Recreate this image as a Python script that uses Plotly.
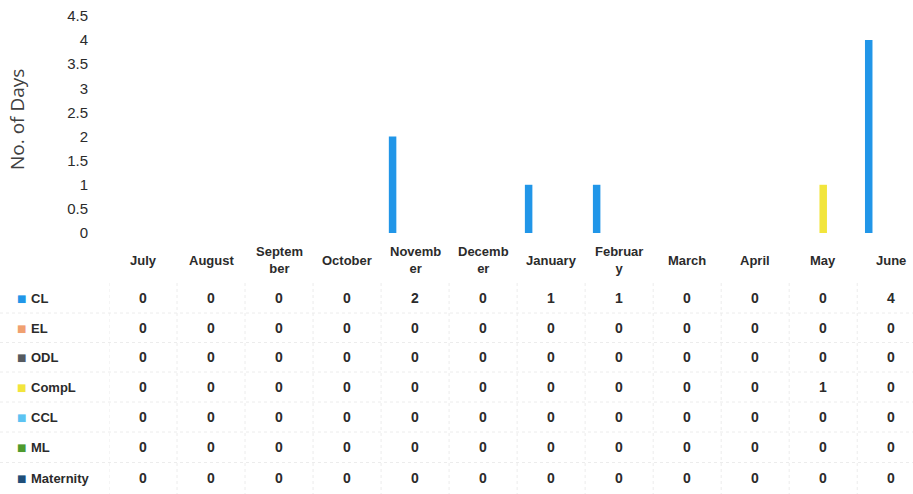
import plotly.graph_objects as go

# months on the category axis
months = ["July", "August", "September", "October", "November", "December",
          "January", "February", "March", "April", "May", "June"]
month_labels = ["July", "August", "Septem<br>ber", "October", "Novemb<br>er", "Decemb<br>er",
                "January", "Februar<br>y", "March", "April", "May", "June"]

# leave types (series)
leave_types = ["CL", "EL", "ODL", "CompL", "CCL", "ML", "Maternity"]

cl = [0, 0, 0, 0, 2, 0, 1, 1, 0, 0, 0, 4]
el = [0, 0, 0, 0, 0, 0, 0, 0, 0, 0, 0, 0]
odl = [0, 0, 0, 0, 0, 0, 0, 0, 0, 0, 0, 0]
compl = [0, 0, 0, 0, 0, 0, 0, 0, 0, 0, 1, 0]
ccl = [0, 0, 0, 0, 0, 0, 0, 0, 0, 0, 0, 0]
ml = [0, 0, 0, 0, 0, 0, 0, 0, 0, 0, 0, 0]
maternity = [0, 0, 0, 0, 0, 0, 0, 0, 0, 0, 0, 0]

series = [cl, el, odl, compl, ccl, ml, maternity]
colors = ["#2196E8", "#F0A070", "#555A60", "#F2E53C", "#5CC3F2", "#4E9A2E", "#1F4E79"]

y_ticks = [0, 0.5, 1, 1.5, 2, 2.5, 3, 3.5, 4, 4.5]

W, H = 913, 494
L, T, B = 109, 16, 261
plot_w = W - L
plot_h = H - T - B
FONT = "Liberation Sans, Arial, sans-serif"
TXT = "#2b2b2b"


def py(ypx):
    # pixel row -> paper y
    return (H - B - ypx) / plot_h


def px(xpx):
    return (xpx - L) / plot_w


fig = go.Figure()
for name, vals, col in zip(leave_types, series, colors):
    fig.add_trace(go.Bar(x=months, y=vals, name=name, marker_color=col,
                         marker_line_width=0, showlegend=False))

ann = []
# month labels under the plot
for m, lab in zip(months, month_labels):
    ann.append(dict(x=m, y=py(260), xref="x", yref="paper", text=f"<b>{lab}</b>", showarrow=False,
                    xanchor="center", yanchor="middle",
                    font=dict(family=FONT, size=13, color=TXT)))

# data table rows
row_y = [298, 328, 357, 387, 417, 447, 478]
for name, vals, col, ry in zip(leave_types, series, colors, row_y):
    ann.append(dict(x=px(15), y=py(ry), xref="paper", yref="paper", text="■",
                    showarrow=False, xanchor="left", yanchor="middle",
                    font=dict(family="DejaVu Sans", size=10, color=col)))
    ann.append(dict(x=px(29), y=py(ry), xref="paper", yref="paper", text=f"<b>{name}</b>",
                    showarrow=False, xanchor="left", yanchor="middle",
                    font=dict(family=FONT, size=13, color=TXT)))
    for m, v in zip(months, vals):
        ann.append(dict(x=m, y=py(ry), xref="x", yref="paper", text=f"<b>{v}</b>",
                        showarrow=False, xanchor="center", yanchor="middle",
                        font=dict(family=FONT, size=14, color=TXT)))

# y axis title
ann.append(dict(x=px(17), y=py(120), xref="paper", yref="paper", text="No. of Days",
                textangle=-90, showarrow=False, xanchor="center", yanchor="middle",
                font=dict(family="Open Sans, sans-serif", size=19, color="#404040")))

# faint dotted table grid
shapes = []
for i in range(len(row_y) - 1):
    yy = (row_y[i] + row_y[i + 1]) / 2
    shapes.append(dict(type="line", xref="paper", yref="paper", x0=px(0), x1=1,
                       y0=py(yy), y1=py(yy), line=dict(color="#ececec", width=1, dash="dot")))
for k in range(len(months)):
    shapes.append(dict(type="line", xref="x", yref="paper", x0=k - 0.5, x1=k - 0.5,
                       y0=py(283), y1=py(494), line=dict(color="#ececec", width=1, dash="dot")))

fig.update_layout(
    width=W, height=H,
    margin=dict(l=L, r=0, t=T, b=B),
    paper_bgcolor="white", plot_bgcolor="white",
    barmode="group", bargap=0.228, bargroupgap=0,
    annotations=ann, shapes=shapes,
    xaxis=dict(type="category", range=[-0.5, 11.32], showticklabels=False, automargin=False,
               showgrid=False, zeroline=False, showline=False, ticks=""),
    yaxis=dict(range=[0, 4.5], tickvals=y_ticks, ticktext=[f"{v:g}" for v in y_ticks],
               showgrid=False, zeroline=False, showline=False, ticklabelstandoff=20,
               automargin=False, tickfont=dict(family=FONT, size=15, color=TXT)),
)

# drop the browser's default body margin so the figure fills the window
fig.write_html("out.html", config={"displayModeBar": False},
               post_script="document.body.style.margin='0';")
